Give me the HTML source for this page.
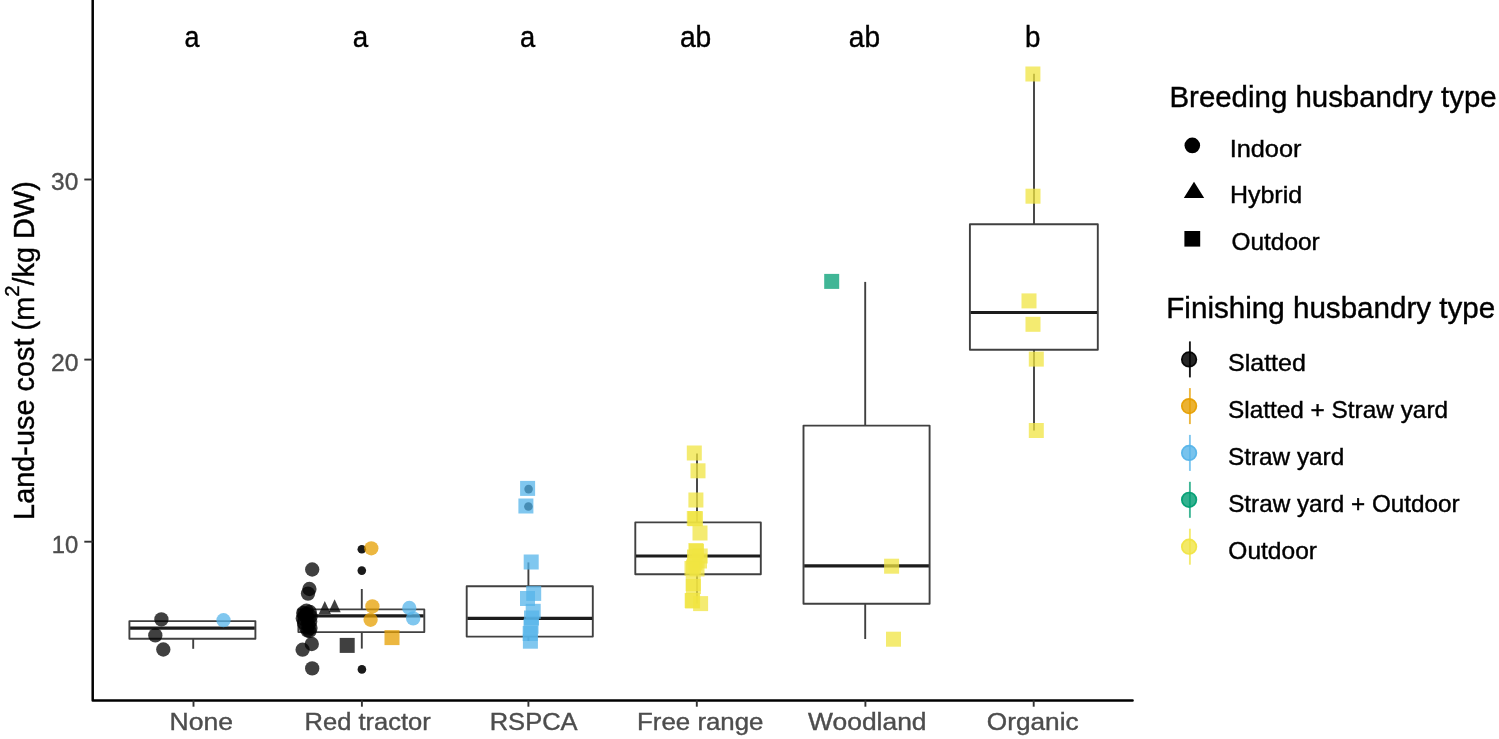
<!DOCTYPE html>
<html lang="en"><head><meta charset="utf-8"><title>Land-use cost by label type</title>
<style>html,body{margin:0;padding:0;background:#fff;}svg{display:block;}text{font-family:"Liberation Sans", sans-serif;}</style></head><body>
<svg width="1499" height="739" viewBox="0 0 1499 739">
<rect width="1499" height="739" fill="#ffffff"/>
<g fill="none" stroke="#404040" stroke-width="1.9" stroke-linejoin="round">
<line x1="193.2" y1="638.8" x2="193.2" y2="648.8"/>
<rect x="129.4" y="621.1" width="126" height="17.7" fill="#ffffff"/>
<line x1="130.1" y1="628.2" x2="254.7" y2="628.2" stroke-width="3.2" stroke="#1c1c1c"/>
<line x1="361.8" y1="589" x2="361.8" y2="609.4"/>
<line x1="361.8" y1="632.1" x2="361.8" y2="648.6"/>
<rect x="298.4" y="609.4" width="125.9" height="22.7" fill="#ffffff"/>
<line x1="299.1" y1="615.9" x2="423.6" y2="615.9" stroke-width="3.2" stroke="#1c1c1c"/>
<line x1="528.4" y1="562.4" x2="528.4" y2="586.2"/>
<line x1="528.4" y1="636.6" x2="528.4" y2="641"/>
<rect x="466.7" y="586.2" width="126.1" height="50.4" fill="#ffffff"/>
<line x1="467.4" y1="618.3" x2="592.1" y2="618.3" stroke-width="3.2" stroke="#1c1c1c"/>
<line x1="697" y1="453.6" x2="697" y2="522.4"/>
<line x1="697" y1="574.2" x2="697" y2="603.4"/>
<rect x="635.3" y="522.4" width="125.5" height="51.8" fill="#ffffff"/>
<line x1="636" y1="556" x2="760.1" y2="556" stroke-width="3.2" stroke="#1c1c1c"/>
<line x1="865.2" y1="281.9" x2="865.2" y2="425.6"/>
<line x1="865.2" y1="603.7" x2="865.2" y2="639"/>
<rect x="803.5" y="425.6" width="126.1" height="178.1" fill="#ffffff"/>
<line x1="804.2" y1="565.9" x2="928.9" y2="565.9" stroke-width="3.2" stroke="#1c1c1c"/>
<line x1="1034" y1="73.8" x2="1034" y2="224.3"/>
<line x1="1034" y1="349.7" x2="1034" y2="430.4"/>
<rect x="969.9" y="224.3" width="127.9" height="125.4" fill="#ffffff"/>
<line x1="970.6" y1="312.5" x2="1097.1" y2="312.5" stroke-width="3.2" stroke="#1c1c1c"/>
</g>
<g fill="#1a1a1a">
<circle cx="361.8" cy="549.2" r="4.3"/>
<circle cx="361.8" cy="570.6" r="4.3"/>
<circle cx="361.9" cy="669.4" r="4.3"/>
<circle cx="528.6" cy="489.1" r="4.3"/>
<circle cx="528.4" cy="506.5" r="4.3"/>
</g>
<g>
<circle cx="161.4" cy="619.4" r="7.15" fill="#000000" fill-opacity="0.75"/>
<circle cx="155.3" cy="635.4" r="7.15" fill="#000000" fill-opacity="0.75"/>
<circle cx="163.3" cy="649.5" r="7.15" fill="#000000" fill-opacity="0.75"/>
<circle cx="223.5" cy="620.2" r="7.15" fill="#56B4E9" fill-opacity="0.75"/>
<circle cx="371.3" cy="548.3" r="7.15" fill="#E69F00" fill-opacity="0.75"/>
<circle cx="312.2" cy="569.5" r="7.15" fill="#000000" fill-opacity="0.75"/>
<circle cx="309.4" cy="589" r="7.15" fill="#000000" fill-opacity="0.75"/>
<circle cx="308" cy="593.6" r="7.15" fill="#000000" fill-opacity="0.75"/>
<polygon points="324.8,601 318.7,614.05 330.9,614.05" fill="#000000" fill-opacity="0.75"/>
<polygon points="334.6,599.3 328.5,612.35 340.7,612.35" fill="#000000" fill-opacity="0.75"/>
<circle cx="306.5" cy="610.6" r="7.15" fill="#000000" fill-opacity="0.75"/>
<circle cx="303.2" cy="613" r="7.15" fill="#000000" fill-opacity="0.75"/>
<circle cx="309.8" cy="612" r="7.15" fill="#000000" fill-opacity="0.75"/>
<circle cx="305" cy="615.5" r="7.15" fill="#000000" fill-opacity="0.75"/>
<circle cx="310.6" cy="616.5" r="7.15" fill="#000000" fill-opacity="0.75"/>
<circle cx="302.8" cy="618.5" r="7.15" fill="#000000" fill-opacity="0.75"/>
<circle cx="307.5" cy="619.5" r="7.15" fill="#000000" fill-opacity="0.75"/>
<circle cx="310.2" cy="621.5" r="7.15" fill="#000000" fill-opacity="0.75"/>
<circle cx="304" cy="623" r="7.15" fill="#000000" fill-opacity="0.75"/>
<circle cx="308.5" cy="625" r="7.15" fill="#000000" fill-opacity="0.75"/>
<circle cx="306" cy="627.5" r="7.15" fill="#000000" fill-opacity="0.75"/>
<circle cx="310.5" cy="628" r="7.15" fill="#000000" fill-opacity="0.75"/>
<circle cx="307.5" cy="630.5" r="7.15" fill="#000000" fill-opacity="0.75"/>
<circle cx="309.5" cy="631" r="7.15" fill="#000000" fill-opacity="0.75"/>
<circle cx="306.5" cy="614" r="7.15" fill="#000000" fill-opacity="0.75"/>
<circle cx="302.6" cy="649.7" r="7.15" fill="#000000" fill-opacity="0.75"/>
<circle cx="311.8" cy="644" r="7.15" fill="#000000" fill-opacity="0.75"/>
<circle cx="312.2" cy="668.4" r="7.15" fill="#000000" fill-opacity="0.75"/>
<rect x="339.7" y="637.9" width="15" height="15" fill="#000000" fill-opacity="0.75"/>
<rect x="384.5" y="630.1" width="15" height="15" fill="#E69F00" fill-opacity="0.75"/>
<circle cx="372.4" cy="606.4" r="7.15" fill="#E69F00" fill-opacity="0.75"/>
<circle cx="370.6" cy="619.8" r="7.15" fill="#E69F00" fill-opacity="0.75"/>
<circle cx="409.3" cy="608" r="7.15" fill="#56B4E9" fill-opacity="0.75"/>
<circle cx="413.2" cy="618.4" r="7.15" fill="#56B4E9" fill-opacity="0.75"/>
<rect x="520.1" y="480.9" width="15" height="15" fill="#56B4E9" fill-opacity="0.75"/>
<rect x="518.4" y="498.5" width="15" height="15" fill="#56B4E9" fill-opacity="0.75"/>
<rect x="523.7" y="554.5" width="15" height="15" fill="#56B4E9" fill-opacity="0.75"/>
<rect x="526.2" y="585.9" width="15" height="15" fill="#56B4E9" fill-opacity="0.75"/>
<rect x="520" y="591" width="15" height="15" fill="#56B4E9" fill-opacity="0.75"/>
<rect x="525.7" y="603.8" width="15" height="15" fill="#56B4E9" fill-opacity="0.75"/>
<rect x="523.5" y="618.8" width="15" height="15" fill="#56B4E9" fill-opacity="0.75"/>
<rect x="522.9" y="633.7" width="15" height="15" fill="#56B4E9" fill-opacity="0.75"/>
<rect x="522.7" y="626" width="15" height="15" fill="#56B4E9" fill-opacity="0.75"/>
<rect x="524" y="610.5" width="15" height="15" fill="#56B4E9" fill-opacity="0.75"/>
<rect x="686.8" y="445.5" width="15" height="15" fill="#F0E442" fill-opacity="0.75"/>
<rect x="690.5" y="463.3" width="15" height="15" fill="#F0E442" fill-opacity="0.75"/>
<rect x="688.4" y="492.5" width="15" height="15" fill="#F0E442" fill-opacity="0.75"/>
<rect x="686.8" y="511" width="15" height="15" fill="#F0E442" fill-opacity="0.75"/>
<rect x="688" y="511.2" width="15" height="15" fill="#F0E442" fill-opacity="0.75"/>
<rect x="692.5" y="525.5" width="15" height="15" fill="#F0E442" fill-opacity="0.75"/>
<rect x="688.4" y="543" width="15" height="15" fill="#F0E442" fill-opacity="0.75"/>
<rect x="689" y="544" width="15" height="15" fill="#F0E442" fill-opacity="0.75"/>
<rect x="692.7" y="548.5" width="15" height="15" fill="#F0E442" fill-opacity="0.75"/>
<rect x="687" y="549.5" width="15" height="15" fill="#F0E442" fill-opacity="0.75"/>
<rect x="692" y="553.5" width="15" height="15" fill="#F0E442" fill-opacity="0.75"/>
<rect x="687.5" y="555.5" width="15" height="15" fill="#F0E442" fill-opacity="0.75"/>
<rect x="684.5" y="561" width="15" height="15" fill="#F0E442" fill-opacity="0.75"/>
<rect x="689.5" y="561.5" width="15" height="15" fill="#F0E442" fill-opacity="0.75"/>
<rect x="686" y="559.5" width="15" height="15" fill="#F0E442" fill-opacity="0.75"/>
<rect x="685.7" y="576" width="15" height="15" fill="#F0E442" fill-opacity="0.75"/>
<rect x="685.9" y="579" width="15" height="15" fill="#F0E442" fill-opacity="0.75"/>
<rect x="684.7" y="593" width="15" height="15" fill="#F0E442" fill-opacity="0.75"/>
<rect x="685.1" y="593.5" width="15" height="15" fill="#F0E442" fill-opacity="0.75"/>
<rect x="693.1" y="596.1" width="15" height="15" fill="#F0E442" fill-opacity="0.75"/>
<rect x="824.2" y="273.9" width="15" height="15" fill="#009E73" fill-opacity="0.75"/>
<rect x="884.1" y="558.7" width="15" height="15" fill="#F0E442" fill-opacity="0.75"/>
<rect x="886" y="631.7" width="15" height="15" fill="#F0E442" fill-opacity="0.75"/>
<rect x="1025.4" y="66.5" width="15" height="15" fill="#F0E442" fill-opacity="0.75"/>
<rect x="1025.5" y="188.7" width="15" height="15" fill="#F0E442" fill-opacity="0.75"/>
<rect x="1021.5" y="293.4" width="15" height="15" fill="#F0E442" fill-opacity="0.75"/>
<rect x="1025.5" y="316.8" width="15" height="15" fill="#F0E442" fill-opacity="0.75"/>
<rect x="1028.8" y="351.6" width="15" height="15" fill="#F0E442" fill-opacity="0.75"/>
<rect x="1028.8" y="423" width="15" height="15" fill="#F0E442" fill-opacity="0.75"/>
</g>
<g stroke="#000000" fill="none">
<path d="M92.7,-2 V700.4 H1132.6" stroke-width="2.5" stroke-linejoin="round" stroke-linecap="round"/>
<line x1="193.5" y1="700.4" x2="193.5" y2="706.7" stroke-width="1.9" stroke="#333"/>
<line x1="361.9" y1="700.4" x2="361.9" y2="706.7" stroke-width="1.9" stroke="#333"/>
<line x1="528.4" y1="700.4" x2="528.4" y2="706.7" stroke-width="1.9" stroke="#333"/>
<line x1="696.8" y1="700.4" x2="696.8" y2="706.7" stroke-width="1.9" stroke="#333"/>
<line x1="865.4" y1="700.4" x2="865.4" y2="706.7" stroke-width="1.9" stroke="#333"/>
<line x1="1033.7" y1="700.4" x2="1033.7" y2="706.7" stroke-width="1.9" stroke="#333"/>
<line x1="84.3" y1="541.7" x2="92.7" y2="541.7" stroke-width="1.9" stroke="#333"/>
<line x1="84.3" y1="359.6" x2="92.7" y2="359.6" stroke-width="1.9" stroke="#333"/>
<line x1="84.3" y1="179.5" x2="92.7" y2="179.5" stroke-width="1.9" stroke="#333"/>
</g>
<g>
<text id="x0" x="169.63" y="730.3" font-size="24.6" fill="#4d4d4d" stroke="#4d4d4d" stroke-width="0.4" textLength="63.53" lengthAdjust="spacingAndGlyphs">None</text>
<text id="x1" x="304.6" y="730.3" font-size="24.6" fill="#4d4d4d" stroke="#4d4d4d" stroke-width="0.4" textLength="126.2" lengthAdjust="spacingAndGlyphs">Red tractor</text>
<text id="x2" x="489.71" y="730.3" font-size="24.6" fill="#4d4d4d" stroke="#4d4d4d" stroke-width="0.4" textLength="87.87" lengthAdjust="spacingAndGlyphs">RSPCA</text>
<text id="x3" x="637.07" y="730.3" font-size="24.6" fill="#4d4d4d" stroke="#4d4d4d" stroke-width="0.4" textLength="126.42" lengthAdjust="spacingAndGlyphs">Free range</text>
<text id="x4" x="808.13" y="730.3" font-size="24.6" fill="#4d4d4d" stroke="#4d4d4d" stroke-width="0.4" textLength="118.42" lengthAdjust="spacingAndGlyphs">Woodland</text>
<text id="x5" x="986.85" y="730.3" font-size="24.6" fill="#4d4d4d" stroke="#4d4d4d" stroke-width="0.4" textLength="91.79" lengthAdjust="spacingAndGlyphs">Organic</text>
<text id="y10" x="51.65" y="552.8" font-size="24.6" fill="#4d4d4d" stroke="#4d4d4d" stroke-width="0.4" textLength="26.48" lengthAdjust="spacingAndGlyphs">10</text>
<text id="y20" x="51.12" y="370.6" font-size="24.6" fill="#4d4d4d" stroke="#4d4d4d" stroke-width="0.4" textLength="27.46" lengthAdjust="spacingAndGlyphs">20</text>
<text id="y30" x="51.05" y="190.3" font-size="24.6" fill="#4d4d4d" stroke="#4d4d4d" stroke-width="0.4" textLength="27.21" lengthAdjust="spacingAndGlyphs">30</text>
<text id="a0" x="184.4" y="46.8" font-size="29" fill="#000" stroke="#000" stroke-width="0.4" textLength="14.96" lengthAdjust="spacingAndGlyphs">a</text>
<text id="a1" x="352.84" y="46.8" font-size="29" fill="#000" stroke="#000" stroke-width="0.4" textLength="15.43" lengthAdjust="spacingAndGlyphs">a</text>
<text id="a2" x="519.93" y="46.8" font-size="29" fill="#000" stroke="#000" stroke-width="0.4" textLength="15.19" lengthAdjust="spacingAndGlyphs">a</text>
<text id="a3" x="679.88" y="46.8" font-size="29" fill="#000" stroke="#000" stroke-width="0.4" textLength="31.37" lengthAdjust="spacingAndGlyphs">ab</text>
<text id="a4" x="848.79" y="46.8" font-size="29" fill="#000" stroke="#000" stroke-width="0.4" textLength="31.22" lengthAdjust="spacingAndGlyphs">ab</text>
<text id="a5" x="1024.93" y="46.8" font-size="29" fill="#000" stroke="#000" stroke-width="0.4" textLength="15.43" lengthAdjust="spacingAndGlyphs">b</text>
<text id="t1" x="1169.48" y="106.6" font-size="29" fill="#000" stroke="#000" stroke-width="0.4" textLength="327.15" lengthAdjust="spacingAndGlyphs">Breeding husbandry type</text>
<text id="t2" x="1166.29" y="318.4" font-size="29" fill="#000" stroke="#000" stroke-width="0.4" textLength="328.99" lengthAdjust="spacingAndGlyphs">Finishing husbandry type</text>
<text id="l1a" x="1229.66" y="157.2" font-size="24" fill="#000" stroke="#000" stroke-width="0.4" textLength="71.83" lengthAdjust="spacingAndGlyphs">Indoor</text>
<text id="l1b" x="1229.96" y="203.3" font-size="24" fill="#000" stroke="#000" stroke-width="0.4" textLength="72.18" lengthAdjust="spacingAndGlyphs">Hybrid</text>
<text id="l1c" x="1231.43" y="250.1" font-size="24" fill="#000" stroke="#000" stroke-width="0.4" textLength="88.26" lengthAdjust="spacingAndGlyphs">Outdoor</text>
<text id="l2a" x="1228.01" y="371" font-size="24" fill="#000" stroke="#000" stroke-width="0.4" textLength="77.87" lengthAdjust="spacingAndGlyphs">Slatted</text>
<text id="l2b" x="1227.98" y="417.8" font-size="24" fill="#000" stroke="#000" stroke-width="0.4" textLength="220.09" lengthAdjust="spacingAndGlyphs">Slatted + Straw yard</text>
<text id="l2c" x="1228" y="464.6" font-size="24" fill="#000" stroke="#000" stroke-width="0.4" textLength="116.24" lengthAdjust="spacingAndGlyphs">Straw yard</text>
<text id="l2d" x="1228.13" y="511.5" font-size="24" fill="#000" stroke="#000" stroke-width="0.4" textLength="231.54" lengthAdjust="spacingAndGlyphs">Straw yard + Outdoor</text>
<text id="l2e" x="1228.34" y="558.5" font-size="24" fill="#000" stroke="#000" stroke-width="0.4" textLength="88.61" lengthAdjust="spacingAndGlyphs">Outdoor</text>
</g>
<text id="ytitle" transform="translate(33.6,519.9) rotate(-90)" font-size="29" fill="#000" stroke="#000" stroke-width="0.4" textLength="338.7" lengthAdjust="spacingAndGlyphs">Land-use cost (m<tspan font-size="20.3" dy="-14.5">2</tspan><tspan dy="14.5">/kg DW)</tspan></text>
<circle cx="1192.3" cy="145.4" r="7.8" fill="#000"/>
<polygon points="1194,181.7 1183.8,197.9 1204.2,197.9" fill="#000"/>
<rect x="1184.4" y="231" width="15.8" height="15.6" fill="#000"/>
<line x1="1189.9" y1="341.4" x2="1189.9" y2="377.4" stroke="#000000" stroke-opacity="0.9" stroke-width="1.9"/>
<circle cx="1189.1" cy="359.4" r="7.3" fill="#000000" fill-opacity="0.85" stroke="#000000" stroke-width="1.7" stroke-opacity="0.95"/>
<line x1="1189.9" y1="388.1" x2="1189.9" y2="424.1" stroke="#E69F00" stroke-opacity="0.75" stroke-width="1.9"/>
<circle cx="1189.1" cy="406.1" r="7.3" fill="#E69F00" fill-opacity="0.8" stroke="#E69F00" stroke-width="1.7" stroke-opacity="0.95"/>
<line x1="1189.9" y1="434.9" x2="1189.9" y2="470.9" stroke="#56B4E9" stroke-opacity="0.75" stroke-width="1.9"/>
<circle cx="1189.1" cy="452.9" r="7.3" fill="#56B4E9" fill-opacity="0.8" stroke="#56B4E9" stroke-width="1.7" stroke-opacity="0.95"/>
<line x1="1189.9" y1="481.8" x2="1189.9" y2="517.8" stroke="#009E73" stroke-opacity="0.75" stroke-width="1.9"/>
<circle cx="1189.1" cy="499.8" r="7.3" fill="#009E73" fill-opacity="0.8" stroke="#009E73" stroke-width="1.7" stroke-opacity="0.95"/>
<line x1="1189.9" y1="528.7" x2="1189.9" y2="564.7" stroke="#F0E442" stroke-opacity="0.75" stroke-width="1.9"/>
<circle cx="1189.1" cy="546.7" r="7.3" fill="#F0E442" fill-opacity="0.8" stroke="#F0E442" stroke-width="1.7" stroke-opacity="0.95"/>
</svg></body></html>
